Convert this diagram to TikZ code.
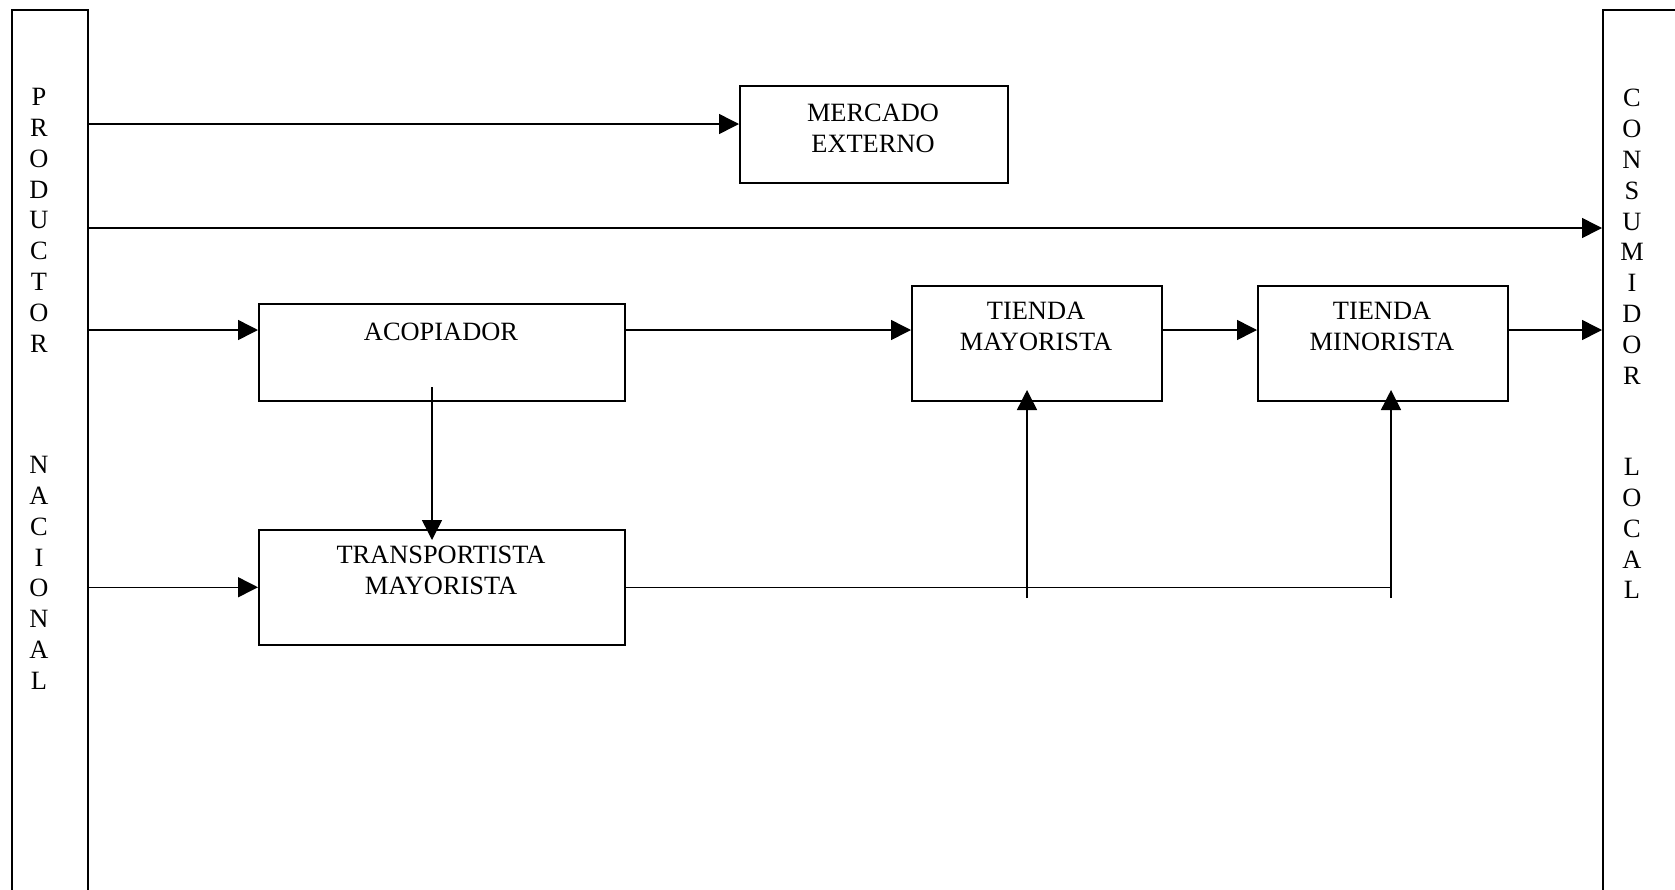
\documentclass[tikz,border=0pt]{standalone}
\usepackage{fontspec}
\setmainfont{Liberation Serif}
\usetikzlibrary{arrows.meta}
\begin{document}
\begin{tikzpicture}[x=0.5pt,y=-0.5pt,
  box/.style={draw, line width=0.75pt, rectangle, inner sep=0pt, anchor=north west},
  lbl/.style={inner sep=0pt, anchor=north, align=center, font=\fontsize{13.2}{15.5}\selectfont},
  side/.style={inner sep=0pt, anchor=north, align=center, font=\fontsize{13.2}{15.4}\selectfont},
  arr/.style={line width=0.75pt, -{Triangle[length=10pt,width=10pt]}},
  ln/.style={line width=0.75pt}]
\useasboundingbox (0,0) rectangle (1675,889);
\clip (0,0) rectangle (1675,889);

% side columns
\node[box, minimum width=38pt, minimum height=445.5pt] (prod) at (11,9) {};
\node[box, minimum width=50pt, minimum height=445.5pt] (cons) at (1602,9) {};
\node[side] (prodtxt) at (39,88) {P\\R\\O\\D\\U\\C\\T\\O\\R};
\node[side] (naciontxt) at (39,456) {N\\A\\C\\I\\O\\N\\A\\L};
\node[side] (constxt) at (1632,89) {C\\O\\N\\S\\U\\M\\I\\D\\O\\R};
\node[side] (localtxt) at (1632,458) {L\\O\\C\\A\\L};

% boxes
\node[box, minimum width=134pt, minimum height=48.5pt] (mercado) at (739,85) {};
\node[box, minimum width=183pt, minimum height=48.5pt] (acop) at (258,303) {};
\node[box, minimum width=183pt, minimum height=57.5pt] (trans) at (258,529) {};
\node[box, minimum width=125pt, minimum height=57.5pt] (tmay) at (911,285) {};
\node[box, minimum width=125pt, minimum height=57.5pt] (tmin) at (1257,285) {};

% box texts
\node[lbl] (mercadotxt) at (873,104) {MERCADO\\EXTERNO};
\node[lbl] (acoptxt) at (441,323) {ACOPIADOR};
\node[lbl] (transtxt) at (441,546) {TRANSPORTISTA\\MAYORISTA};
\node[lbl] (tmaytxt) at (1036,302) {TIENDA\\MAYORISTA};
\node[lbl] (tmintxt) at (1382,302) {TIENDA\\MINORISTA};

% row levels and free ends
\coordinate (rowext) at (0,124);
\coordinate (rowdir) at (0,228);
\coordinate (rowacop) at (0,330);
\coordinate (acopdrop) at (432,387);
\coordinate (transin) at (432,540);
\coordinate (feedmay) at (1027,598);
\coordinate (maytip) at (1027,390);
\coordinate (feedmin) at (1391,598);
\coordinate (mintip) at (1391,390);

% connectors
\draw[arr] (prod.east |- rowext) -- (mercado.west |- rowext);
\draw[arr] (prod.east |- rowdir) -- (cons.west |- rowdir);
\draw[arr] (prod.east |- rowacop) -- (acop.west |- rowacop);
\draw[arr] (acop.east |- rowacop) -- (tmay.west |- rowacop);
\draw[arr] (tmay.east |- rowacop) -- (tmin.west |- rowacop);
\draw[arr] (tmin.east |- rowacop) -- (cons.west |- rowacop);
\draw[arr] (prod.east |- trans.west) -- (trans.west);
\draw[arr] (acopdrop) -- (transin);
\draw[ln] (trans.east) -- (feedmin |- trans.east);
\draw[arr] (feedmay) -- (maytip);
\draw[arr] (feedmin) -- (mintip);
\end{tikzpicture}
\end{document}
